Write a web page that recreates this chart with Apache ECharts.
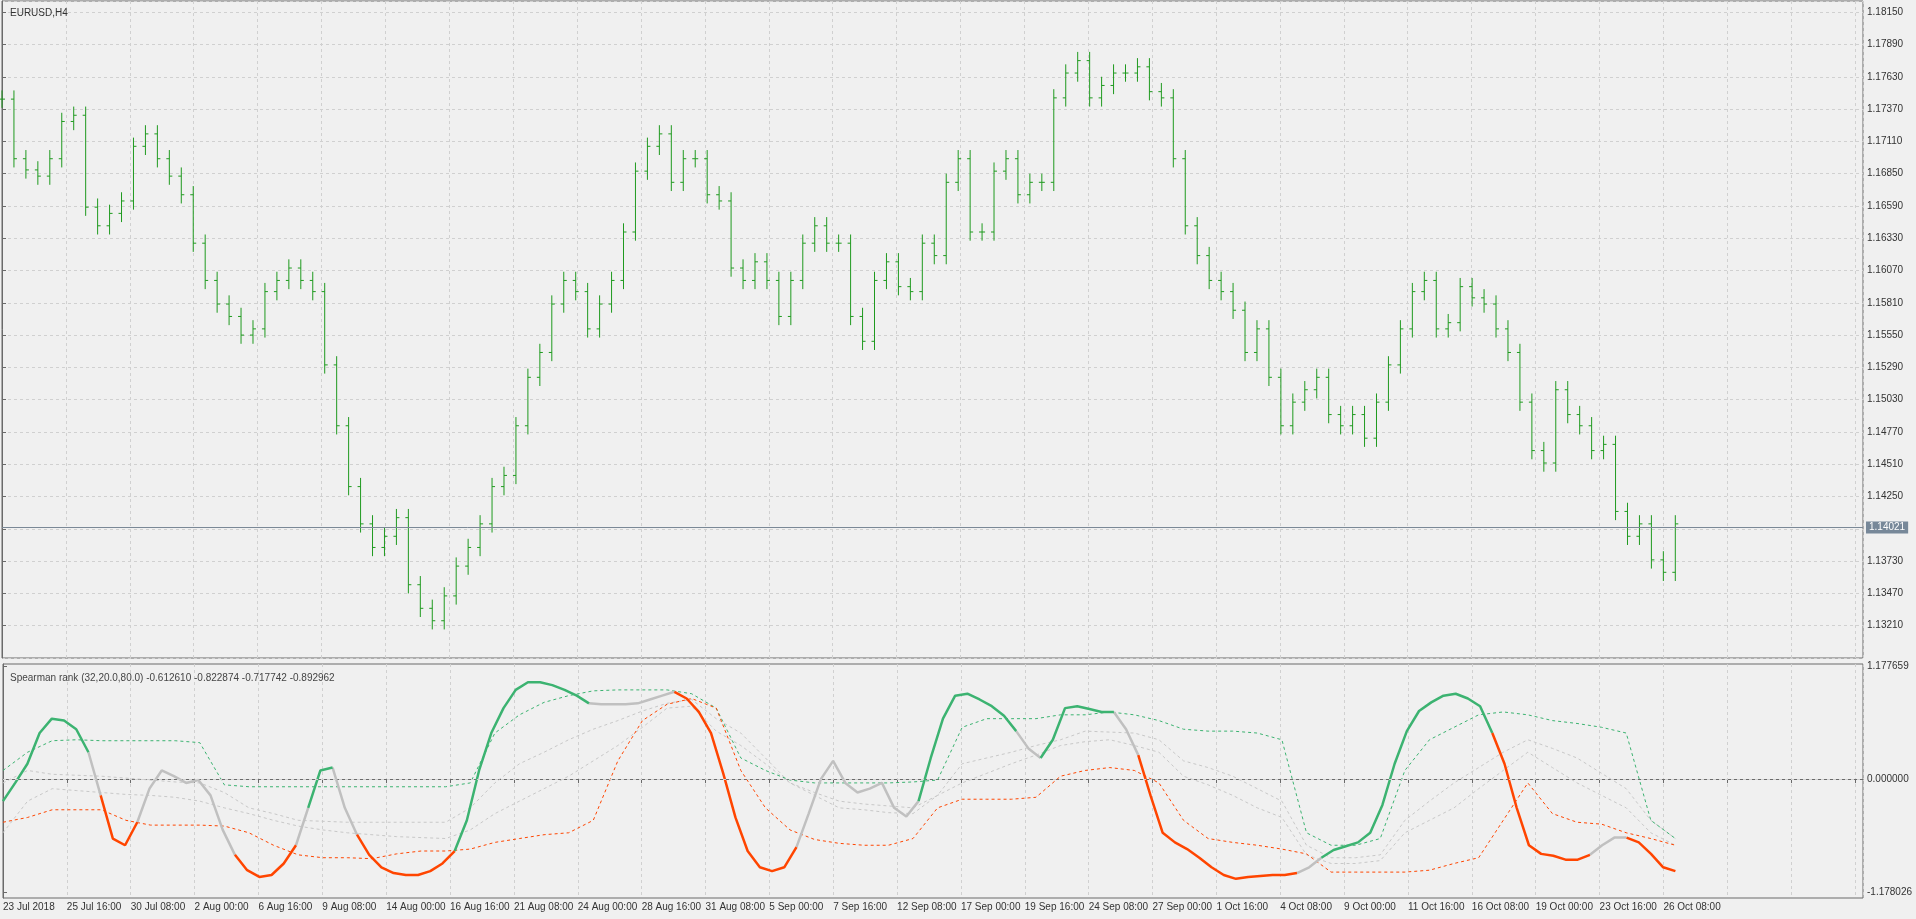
<!DOCTYPE html>
<html>
<head>
<meta charset="utf-8">
<script src="https://cdn.jsdelivr.net/npm/echarts@6/dist/echarts.min.js"></script>
<style>
html,body{margin:0;padding:0;background:#f0f0f0;}
#chart{width:1916px;height:919px;}
</style>
</head>
<body>
<div id="chart"></div>
<script>
// 横轴刻度（每16根4小时K线一个）
var timeLabels = ['23 Jul 2018','25 Jul 16:00','30 Jul 08:00','2 Aug 00:00','6 Aug 16:00','9 Aug 08:00',
  '14 Aug 00:00','16 Aug 16:00','21 Aug 08:00','24 Aug 00:00','28 Aug 16:00','31 Aug 08:00','5 Sep 00:00',
  '7 Sep 16:00','12 Sep 08:00','17 Sep 00:00','19 Sep 16:00','24 Sep 08:00','27 Sep 00:00','1 Oct 16:00',
  '4 Oct 08:00','9 Oct 00:00','11 Oct 16:00','16 Oct 08:00','19 Oct 00:00','23 Oct 16:00','26 Oct 08:00'];

// 收盘价
var closes = [1.1745,1.1697,1.1688,1.1683,1.1697,1.1727,1.1732,1.1658,1.1643,1.1653,1.1663,1.1707,1.1717,1.1697,
  1.1683,1.1668,1.1629,1.1599,1.1580,1.1570,1.1555,1.1560,1.1590,1.1599,1.1609,1.1599,1.1590,1.1531,1.1482,1.1433,
  1.1403,1.1384,1.1393,1.1408,1.1354,1.1335,1.1325,1.1345,1.1369,1.1384,1.1403,1.1433,1.1442,1.1482,1.1521,1.1541,
  1.1580,1.1599,1.1590,1.1560,1.1580,1.1599,1.1638,1.1687,1.1707,1.1717,1.1678,1.1697,1.1697,1.1668,1.1663,1.1609,
  1.1599,1.1614,1.1599,1.1570,1.1599,1.1629,1.1643,1.1629,1.1629,1.1570,1.1550,1.1599,1.1614,1.1594,1.1590,1.1629,
  1.1619,1.1678,1.1697,1.1638,1.1638,1.1687,1.1697,1.1668,1.1678,1.1678,1.1746,1.1766,1.1776,1.1746,1.1756,1.1766,
  1.1766,1.1771,1.1751,1.1746,1.1697,1.1643,1.1619,1.1599,1.1590,1.1575,1.1541,1.1560,1.1521,1.1482,1.1501,1.1511,
  1.1521,1.1491,1.1482,1.1491,1.1472,1.1501,1.1531,1.1560,1.1590,1.1599,1.1560,1.1565,1.1594,1.1585,1.1580,1.1560,
  1.1541,1.1501,1.1462,1.1452,1.1511,1.1491,1.1482,1.1462,1.1467,1.1413,1.1393,1.1403,1.1374,1.1364,1.1403];
var lastPrice = 1.14021;

// Spearman 主线
var rankMain = [-0.23,-0.04,0.16,0.48,0.63,0.61,0.52,0.28,-0.17,-0.62,-0.69,-0.45,-0.10,0.09,0.03,-0.04,-0.01,-0.17,
  -0.53,-0.79,-0.95,-1.02,-1.00,-0.88,-0.69,-0.30,0.09,0.12,-0.30,-0.58,-0.79,-0.92,-0.98,-1.00,-1.00,-0.96,-0.88,
  -0.75,-0.43,0.09,0.48,0.74,0.93,1.01,1.01,0.98,0.93,0.87,0.79,0.78,0.78,0.78,0.79,0.83,0.87,0.91,0.84,0.70,0.48,
  0.06,-0.40,-0.75,-0.92,-0.96,-0.92,-0.71,-0.36,0,0.19,-0.04,-0.14,-0.10,-0.04,-0.30,-0.39,-0.23,0.22,0.63,0.87,
  0.89,0.83,0.76,0.66,0.50,0.32,0.22,0.41,0.74,0.76,0.73,0.70,0.70,0.52,0.25,-0.17,-0.56,-0.66,-0.73,-0.82,-0.92,
  -1.00,-1.04,-1.02,-1.01,-1.00,-1.00,-0.98,-0.92,-0.82,-0.74,-0.70,-0.66,-0.56,-0.27,0.16,0.50,0.71,0.80,0.87,0.89,
  0.84,0.76,0.48,0.16,-0.30,-0.69,-0.78,-0.80,-0.84,-0.84,-0.79,-0.69,-0.61,-0.61,-0.66,-0.78,-0.92,-0.96];
// g=上穿, r=下穿, n=中性
var rankState = 'gggggggnrrrnnnnnnnnrrrrrnggnnrrrrrrrrgggggggggggnnnnnnnrrrrrrrrrrnnnnnnnnnnggggggggnnggggggnnrrrrrrrrrrrrrnnggggggggggggggrrrrrrrrnnnrrrr';

// 虚线（每两个采样点一个值）
var levelUp = [0.09,0.28,0.40,0.41,0.40,0.40,0.40,0.40,0.38,-0.06,-0.08,-0.08,-0.08,-0.08,-0.08,-0.08,-0.08,-0.08,
  -0.08,-0.04,0.48,0.67,0.80,0.87,0.92,0.93,0.93,0.93,0.89,0.74,0.22,0.09,-0.01,-0.04,-0.04,-0.04,-0.04,-0.03,-0.01,
  0.54,0.63,0.63,0.63,0.67,0.67,0.70,0.67,0.61,0.52,0.50,0.50,0.48,0.41,-0.56,-0.69,-0.69,-0.62,0.09,0.41,0.54,0.67,
  0.70,0.67,0.61,0.58,0.54,0.48,-0.43,-0.62];
var levelDn = [-0.45,-0.40,-0.32,-0.32,-0.32,-0.43,-0.48,-0.48,-0.48,-0.49,-0.56,-0.69,-0.79,-0.82,-0.82,-0.83,-0.78,
  -0.75,-0.75,-0.73,-0.66,-0.62,-0.58,-0.56,-0.43,0.19,0.61,0.78,0.84,0.74,0.09,-0.30,-0.53,-0.63,-0.67,-0.69,-0.69,
  -0.62,-0.30,-0.21,-0.21,-0.21,-0.19,0.03,0.09,0.12,0.09,-0.04,-0.43,-0.62,-0.66,-0.69,-0.73,-0.78,-0.97,-0.97,-0.97,
  -0.97,-0.95,-0.88,-0.82,-0.43,-0.04,-0.36,-0.45,-0.47,-0.56,-0.62,-0.69];
var levelMidA = [-0.04,0.09,0.05,0.04,0.03,0.01,-0.01,-0.03,-0.04,-0.14,-0.30,-0.36,-0.43,-0.44,-0.45,-0.45,-0.45,
  -0.45,-0.45,-0.30,-0.04,0.16,0.28,0.41,0.52,0.61,0.71,0.79,0.83,0.63,0.48,0.22,-0.04,-0.14,-0.23,-0.26,-0.28,-0.30,
  -0.17,0.16,0.22,0.28,0.35,0.41,0.50,0.49,0.48,0.41,0.19,0.12,0.03,-0.10,-0.23,-0.69,-0.82,-0.82,-0.79,-0.43,-0.23,
  -0.04,0.12,0.28,0.41,0.32,0.22,0.06,-0.10,-0.43,-0.62];
var levelMidB = [-0.56,-0.23,-0.10,-0.12,-0.14,-0.16,-0.17,-0.19,-0.23,-0.30,-0.36,-0.43,-0.49,-0.53,-0.56,-0.58,
  -0.60,-0.61,-0.62,-0.53,-0.36,-0.23,-0.10,0.03,0.19,0.35,0.54,0.74,0.76,0.50,0.35,0.16,-0.04,-0.17,-0.30,-0.32,
  -0.35,-0.36,-0.17,-0.04,0.06,0.16,0.25,0.35,0.39,0.41,0.35,0.28,0.03,-0.06,-0.17,-0.30,-0.40,-0.79,-0.88,-0.88,
  -0.85,-0.56,-0.43,-0.30,-0.10,0.09,0.28,0.12,-0.04,-0.17,-0.30,-0.56,-0.69];

var LAST_BAR = 419;  // 最后一根K线的位置（以4小时K线计）
var WICK = 0.0007;

var chart = echarts.init(document.getElementById('chart'));

function spread(arr) {
    var step = LAST_BAR / (arr.length - 1);
    return arr.map(function (v, i) { return [i * step, v]; });
}

var ohlc = spread(closes).map(function (p, i) {
    var c = p[1];
    var o = i > 0 ? closes[i - 1] : c;
    return [p[0], o, Math.max(o, c) + WICK, Math.min(o, c) - WICK, c];
});

function stateLine(s) {
    return spread(rankMain).map(function (p, i) {
        var on = rankState[i] === s || (i > 0 && rankState[i - 1] === s);
        return [p[0], on ? p[1] : null];
    });
}

var font = 'Liberation Sans';
var axisGray = '#6a6a6a';
var gridDash = { show: true, lineStyle: { color: '#d0d0d0', type: [3, 3], width: 1 } };

var option = {
    backgroundColor: '#f0f0f0',
    animation: false,
    textStyle: { fontFamily: font },
    title: [
        { text: 'EURUSD,H4', left: 5, top: 3, textStyle: { fontSize: 10, fontWeight: 'normal', color: '#333', fontFamily: font } },
        { text: 'Spearman rank (32,20.0,80.0) -0.612610 -0.822874 -0.717742 -0.892962', left: 5, top: 668,
          textStyle: { fontSize: 10, fontWeight: 'normal', color: '#444', fontFamily: font } }
    ],
    grid: [
        { left: 2, right: 53, top: 1, height: 657, show: true, borderColor: axisGray, borderWidth: 1, backgroundColor: 'transparent' },
        { left: 2, right: 53, top: 664, height: 234, show: true, borderColor: axisGray, borderWidth: 1, backgroundColor: 'transparent' }
    ],
    xAxis: [0, 1].map(function (g) {
        return {
            type: 'value', gridIndex: g, min: 0, max: 466, interval: 16,
            axisLine: { show: g === 1, lineStyle: { color: axisGray } },
            axisTick: { show: g === 1, length: 4, lineStyle: { color: axisGray } },
            splitLine: gridDash,
            axisLabel: {
                show: g === 1, align: 'left', margin: 4, fontSize: 10, color: '#333', showMaxLabel: false,
                fontFamily: font,
                formatter: function (v) { return timeLabels[Math.round(v / 16)] || ''; }
            }
        };
    }),
    yAxis: [
        {
            type: 'value', gridIndex: 0, position: 'right', min: 1.1295, max: 1.1824, interval: 0.0026,
            axisLine: { show: true, lineStyle: { color: axisGray } },
            axisTick: { show: true, length: 4, lineStyle: { color: axisGray } },
            splitLine: gridDash,
            axisLabel: { showMinLabel: false, showMaxLabel: false, margin: 4, fontSize: 10, color: '#333', fontFamily: font,
                formatter: function (v) { return v.toFixed(5); } }
        },
        {
            type: 'value', gridIndex: 1, position: 'right', min: -1.24, max: 1.2,
            axisLine: { show: true, lineStyle: { color: axisGray } },
            axisTick: { show: true, length: 4, lineStyle: { color: axisGray }, customValues: [1.177659, 0, -1.178026] },
            splitLine: { show: false },
            axisLabel: { margin: 4, fontSize: 10, color: '#333', fontFamily: font, customValues: [1.177659, 0, -1.178026],
                formatter: function (v) { return v.toFixed(6); } }
        }
    ],
    series: [
        {
            type: 'custom', xAxisIndex: 0, yAxisIndex: 0, data: ohlc,
            encode: { x: 0, y: [1, 2, 3, 4] },
            renderItem: function (params, api) {
                var x = api.value(0);
                var o = api.coord([x, api.value(1)]);
                var h = api.coord([x, api.value(2)]);
                var l = api.coord([x, api.value(3)]);
                var c = api.coord([x, api.value(4)]);
                var st = { stroke: '#1f9a1f', lineWidth: 1 };
                return {
                    type: 'group',
                    children: [
                        { type: 'line', shape: { x1: h[0], y1: h[1], x2: l[0], y2: l[1] }, style: st },
                        { type: 'line', shape: { x1: o[0] - 3, y1: o[1], x2: o[0], y2: o[1] }, style: st },
                        { type: 'line', shape: { x1: c[0], y1: c[1], x2: c[0] + 3, y2: c[1] }, style: st }
                    ]
                };
            }
        },
        {
            type: 'line', xAxisIndex: 0, yAxisIndex: 0, data: [], silent: true,
            markLine: {
                symbol: 'none', silent: true,
                lineStyle: { color: '#7a8896', type: 'solid', width: 1 },
                label: { position: 'end', formatter: lastPrice.toFixed(5), color: '#fff', backgroundColor: '#778899',
                    padding: [1, 3], fontSize: 10, distance: 3, fontFamily: font },
                data: [{ yAxis: lastPrice }]
            }
        },
        {
            type: 'line', xAxisIndex: 1, yAxisIndex: 1, data: [], silent: true,
            markLine: { symbol: 'none', silent: true, label: { show: false },
                lineStyle: { color: '#d0d0d0', type: [3, 3], width: 1 }, data: [{ yAxis: 0 }] }
        },
        { type: 'line', xAxisIndex: 1, yAxisIndex: 1, data: spread(levelMidA), showSymbol: false,
          lineStyle: { color: '#c8c8c8', width: 1, type: [3, 3] } },
        { type: 'line', xAxisIndex: 1, yAxisIndex: 1, data: spread(levelMidB), showSymbol: false,
          lineStyle: { color: '#c8c8c8', width: 1, type: [3, 3] } },
        { type: 'line', xAxisIndex: 1, yAxisIndex: 1, data: spread(levelUp), showSymbol: false,
          lineStyle: { color: '#3cb371', width: 1, type: [3, 3] } },
        { type: 'line', xAxisIndex: 1, yAxisIndex: 1, data: spread(levelDn), showSymbol: false,
          lineStyle: { color: '#ff4500', width: 1, type: [3, 3] } },
        { type: 'line', xAxisIndex: 1, yAxisIndex: 1, data: stateLine('n'), showSymbol: false, connectNulls: false,
          lineStyle: { color: '#c0c0c0', width: 2.5 } },
        { type: 'line', xAxisIndex: 1, yAxisIndex: 1, data: stateLine('g'), showSymbol: false, connectNulls: false,
          lineStyle: { color: '#3cb371', width: 2.5 } },
        { type: 'line', xAxisIndex: 1, yAxisIndex: 1, data: stateLine('r'), showSymbol: false, connectNulls: false,
          lineStyle: { color: '#ff4500', width: 2.5 } }
    ]
};

chart.setOption(option);
</script>
</body>
</html>
